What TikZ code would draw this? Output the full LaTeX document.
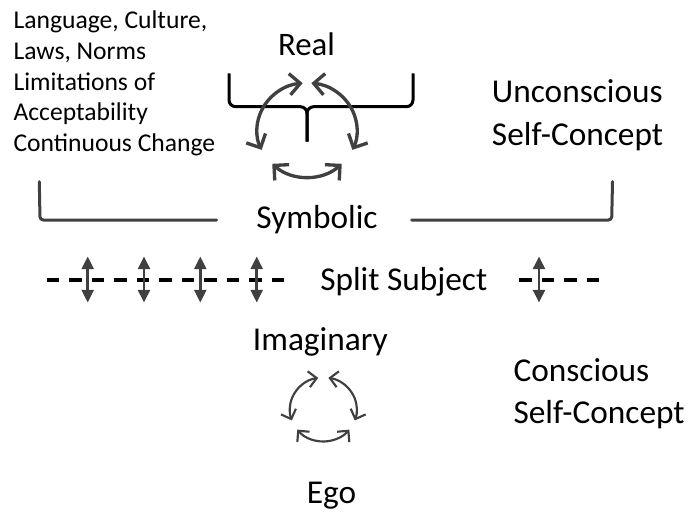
\documentclass[tikz,border=0pt]{standalone}
\usepackage{fontspec}
\setmainfont{Carlito}
\usetikzlibrary{arrows.meta,calc}
\definecolor{arrgray}{HTML}{404040}
\begin{document}
\begin{tikzpicture}[x=0.75pt,y=-0.75pt,
  lbl/.style={inner sep=0pt, anchor=base west, font=\fontsize{25}{30}\selectfont},
  lblc/.style={inner sep=0pt, anchor=base, font=\fontsize{25}{30}\selectfont},
  small/.style={inner sep=0pt, anchor=base west, font=\fontsize{19.2}{23}\selectfont},
  bigcyc/.style={draw=arrgray, line width=2.5pt,
    {Straight Barb[length=8pt,width=16pt]}-{Straight Barb[length=8pt,width=16pt]}},
  smallcyc/.style={draw=arrgray, line width=1.6pt,
    {Straight Barb[length=6pt,width=12pt]}-{Straight Barb[length=6pt,width=12pt]}},
  bracketline/.style={draw=arrgray, line width=2.25pt, line cap=round, rounded corners=2.5pt},
  braceline/.style={draw=black, line width=2.25pt, rounded corners=5pt},
  splitline/.style={draw=black, line width=2.4pt, dash pattern=on 9.375pt off 7.5pt},
  splitarrow/.style={draw=arrgray, line width=1.9pt,
    {Triangle[length=9.5pt,width=9pt]}-{Triangle[length=9.5pt,width=9pt]}}
]
\useasboundingbox (0,0) rectangle (688,511);

% ---------- texts ----------
\node[lblc, font=\fontsize{24.6}{29}\selectfont] (real) at (306.5,55) {Real};
\node[small] (t1) at (13.3,28.3) {Language, Culture,};
\node[small] (t2) at (13.3,59.1) {Laws, Norms};
\node[small] (t3) at (13.3,90.0) {Limitations of};
\node[small] (t4) at (13.3,120.8) {Acceptability};
\node[small] (t5) at (13.3,151.7) {Continuous Change};
\node[lbl] (unc1) at (491.7,102) {Unconscious};
\node[lbl] (unc2) at (491.7,145) {Self-Concept};
\node[lblc] (symb) at (317,228.3) {Symbolic};
\node[lbl] (split) at (320,290) {Split Subject};
\node[lbl] (imag) at (252.7,350) {Imaginary};
\node[lbl] (con1) at (513.3,381.7) {Conscious};
\node[lbl] (con2) at (513.3,423.3) {Self-Concept};
\node[lbl] (ego) at (306.7,503.3) {Ego};

% ---------- Real brace ----------
\coordinate (bl) at (229,73.3);
\coordinate (blc) at (229,106.7);
\coordinate (bm) at (307,106.7);
\coordinate (bs) at (307,141.7);
\coordinate (brc) at (413,106.7);
\coordinate (br) at (413,73.3);
\draw[braceline] (bl) -- (blc) -- (bm) -- (bs);
\draw[braceline] (bs) -- (bm) -- (brc) -- (br);

% ---------- big cycle ----------
\coordinate (C) at (307,130);
\draw[bigcyc] ($(C)+(-95:50 and 47)$) arc[start angle=-95, end angle=-205, x radius=50, y radius=47];
\draw[bigcyc] ($(C)+(-85:50 and 47)$) arc[start angle=-85, end angle=25, x radius=50, y radius=47];
\draw[bigcyc] ($(C)+(134:50 and 47)$) arc[start angle=134, end angle=46, x radius=50, y radius=47];

% ---------- Symbolic brackets ----------
\coordinate (sl1) at (39.3,181.7);
\coordinate (sl2) at (40,220);
\coordinate (sl3) at (216.7,220);
\coordinate (sr1) at (411.7,220);
\coordinate (sr2) at (611.7,220);
\coordinate (sr3) at (612.5,181.7);
\draw[bracketline] (sl1) -- (sl2) -- (sl3);
\draw[bracketline] (sr1) -- (sr2) -- (sr3);

% ---------- split subject ----------
\coordinate (dl1) at (46.7,280);
\coordinate (dl2) at (285,280);
\coordinate (dr1) at (519.3,280);
\coordinate (dr2) at (600.5,280);
\draw[splitline] (dl1) -- (dl2);
\draw[splitline] (dr1) -- (dr2);
\foreach \xx/\nm in {87.7/a,144/b,200.3/c,256.7/d,539/e}{
  \coordinate (up\nm) at (\xx,256.5);
  \coordinate (dn\nm) at (\xx,302.5);
  \draw[splitarrow] (up\nm) -- (dn\nm);
}

% ---------- small cycle ----------
\coordinate (E) at (323.3,409.5);
\draw[smallcyc] ($(E)+(-98.7:33.5 and 32)$) arc[start angle=-98.7, end angle=-200, x radius=33.5, y radius=32];
\draw[smallcyc] ($(E)+(-81.3:33.5 and 32)$) arc[start angle=-81.3, end angle=20, x radius=33.5, y radius=32];
\draw[smallcyc] ($(E)+(141:33.5 and 32)$) arc[start angle=141, end angle=39, x radius=33.5, y radius=32];
\end{tikzpicture}
\end{document}
